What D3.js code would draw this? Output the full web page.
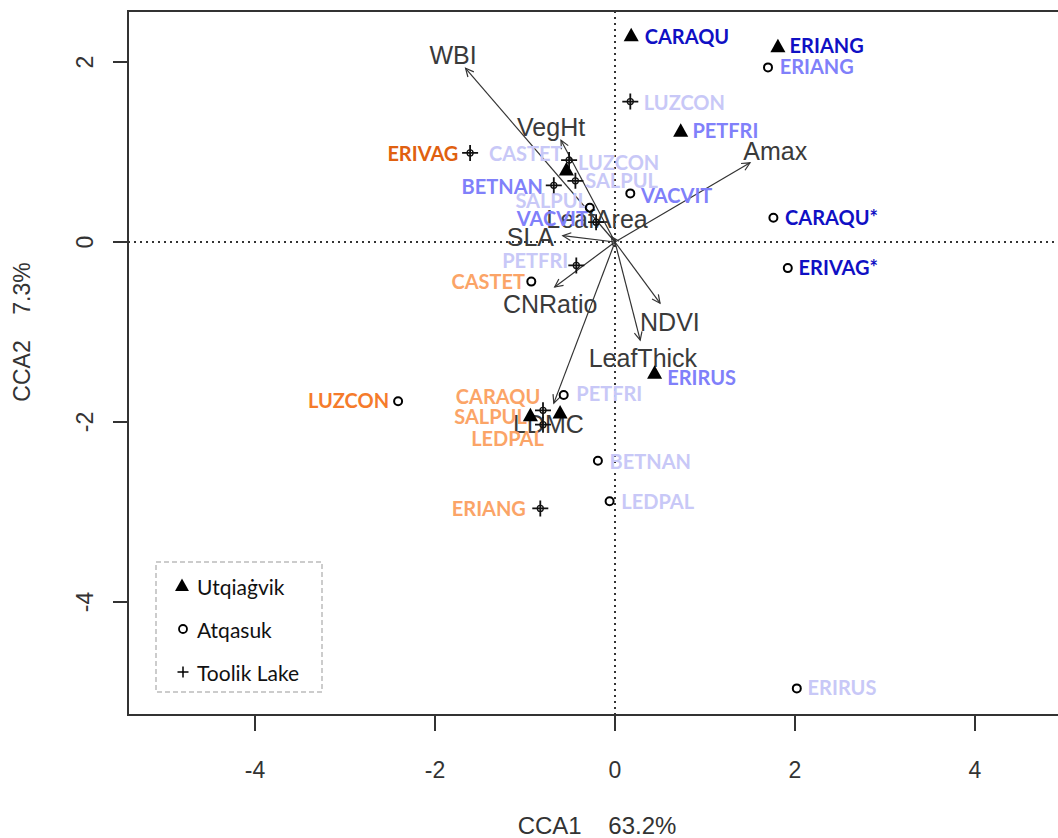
<!DOCTYPE html>
<html>
<head>
<meta charset="utf-8">
<script src="https://cdn.jsdelivr.net/npm/d3@7"></script>
<style>
  body { margin: 0; background: #fff; }
  svg { display: block; }
</style>
</head>
<body>
<svg id="ordi" width="1058" height="838"></svg>
<script>
// site scores, CCA1 / CCA2
const utqPoints = [
  [0.18, 2.29], [1.81, 2.17], [0.73, 1.23], [-0.54, 0.80],
  [0.44, -1.46], [-0.94, -1.93], [-0.61, -1.90]
];
const atqPoints = [
  [1.70, 1.94], [0.17, 0.54], [1.76, 0.27], [1.92, -0.29], [-0.28, 0.38],
  [-0.93, -0.44], [-2.41, -1.77], [-0.57, -1.70], [-0.19, -2.43],
  [-0.06, -2.88], [2.02, -4.96]
];
const toolikPoints = [
  [0.17, 1.56], [-1.61, 0.99], [-0.51, 0.91], [-0.68, 0.63], [-0.44, 0.68],
  [-0.21, 0.22], [-0.43, -0.26], [-0.80, -1.87], [-0.80, -2.03], [-0.83, -2.96]
];

// species labels: name, x, y, side, tone
const speciesLabels = [
  ['CARAQU', 0.33, 2.29, 'r', 'dark'],
  ['ERIANG', 1.94, 2.19, 'r', 'dark'],
  ['ERIANG', 1.83, 1.96, 'r', 'mid'],
  ['LUZCON', 0.32, 1.56, 'r', 'light'],
  ['PETFRI', 0.86, 1.24, 'r', 'mid'],
  ['CASTET', -1.40, 0.99, 'r', 'light'],
  ['LUZCON', -0.41, 0.89, 'r', 'light'],
  ['SALPUL', -0.33, 0.69, 'r', 'light'],
  ['VACVIT', 0.29, 0.52, 'r', 'mid'],
  ['CARAQU*', 1.89, 0.28, 'r', 'dark'],
  ['ERIVAG*', 2.04, -0.28, 'r', 'dark'],
  ['ERIRUS', 0.58, -1.50, 'r', 'mid'],
  ['PETFRI', -0.43, -1.68, 'r', 'light'],
  ['BETNAN', -0.06, -2.43, 'r', 'light'],
  ['LEDPAL', 0.07, -2.88, 'r', 'light'],
  ['ERIRUS', 2.14, -4.94, 'r', 'light'],
  ['ERIVAG', -1.74, 0.99, 'l', 'darkOrange'],
  ['BETNAN', -0.80, 0.62, 'l', 'mid'],
  ['SALPUL', -0.30, 0.47, 'l', 'light'],
  ['VACVIT', -0.30, 0.27, 'l', 'mid'],
  ['PETFRI', -0.52, -0.20, 'l', 'light'],
  ['CASTET', -1.00, -0.43, 'l', 'lightOrange'],
  ['LUZCON', -2.51, -1.76, 'l', 'orange'],
  ['CARAQU', -0.83, -1.71, 'l', 'lightOrange'],
  ['SALPUL', -0.98, -1.93, 'l', 'lightOrange'],
  ['LEDPAL', -0.79, -2.18, 'l', 'lightOrange'],
  ['ERIANG', -0.99, -2.96, 'l', 'lightOrange']
];

// trait vectors
const traitNames = ['WBI', 'VegHt', 'Amax', 'LeafArea', 'SLA', 'CNRatio', 'NDVI', 'LeafThick', 'LDMC'];
const traitX = [-1.66, -0.60, 1.50, -0.04, -0.58, -0.67, 0.50, 0.28, -0.68];
const traitY = [1.93, 1.13, 0.88, 0.06, 0.07, -0.50, -0.68, -1.09, -1.79];
const traitLabelX = [-1.80, -0.71, 1.78, -0.20, -0.94, -0.72, 0.61, 0.31, -0.74];
const traitLabelY = [2.08, 1.28, 1.01, 0.26, 0.06, -0.69, -0.89, -1.29, -2.02];

const xTicks = [-4, -2, 0, 2, 4];
const yTicks = [-4, -2, 0, 2];
const legendItems = ['Utqiaġvik', 'Atqasuk', 'Toolik Lake'];

const tones = {
  dark: '#1010c4',
  mid: '#8080fa',
  light: '#c8c8f7',
  darkOrange: '#e0600f',
  orange: '#f57b2b',
  lightOrange: '#fba467'
};

const svg = d3.select('#ordi');
const pLeft = 128, pTop = 11, pRight = 1066, pBottom = 715;

const scalex = d3.scaleLinear()
  .domain([(pLeft - 615) / 90, (pRight - 615) / 90])
  .range([pLeft, pRight]);
const scaley = d3.scaleLinear()
  .domain([(242 - pBottom) / 90, (242 - pTop) / 90])
  .range([pBottom, pTop]);

const axisFont = '"Liberation Sans", Arial, sans-serif';
const labelFont = 'Lato, "Open Sans", sans-serif';

// zero lines
svg.append('line')
  .attr('x1', scalex(0)).attr('x2', scalex(0))
  .attr('y1', pTop).attr('y2', pBottom)
  .attr('stroke', '#333').attr('stroke-width', 2).attr('stroke-dasharray', '2,4');
svg.append('line')
  .attr('x1', pLeft).attr('x2', pRight)
  .attr('y1', scaley(0)).attr('y2', scaley(0))
  .attr('stroke', '#333').attr('stroke-width', 2).attr('stroke-dasharray', '2,4');

// trait arrows
const arrows = svg.append('g').attr('stroke', '#333').attr('stroke-width', 1.2).attr('fill', 'none');
traitNames.forEach((n, i) => {
  const x0 = scalex(0), y0 = scaley(0);
  const x1 = scalex(traitX[i]), y1 = scaley(traitY[i]);
  const a = Math.atan2(y1 - y0, x1 - x0);
  const h = 9, spread = 0.45;
  arrows.append('line').attr('x1', x0).attr('y1', y0).attr('x2', x1).attr('y2', y1);
  arrows.append('path').attr('d',
    'M' + (x1 - h * Math.cos(a - spread)) + ',' + (y1 - h * Math.sin(a - spread)) +
    'L' + x1 + ',' + y1 +
    'L' + (x1 - h * Math.cos(a + spread)) + ',' + (y1 - h * Math.sin(a + spread)));
});

svg.append('g').selectAll('text')
  .data(traitNames)
  .enter()
  .append('text')
  .attr('x', (d, i) => scalex(traitLabelX[i]))
  .attr('y', (d, i) => scaley(traitLabelY[i]))
  .attr('text-anchor', 'middle')
  .attr('dominant-baseline', 'central')
  .attr('font-family', axisFont)
  .attr('font-size', 25)
  .attr('fill', '#3a3a3a')
  .text(d => d);

// species labels
svg.append('g').selectAll('text')
  .data(speciesLabels)
  .enter()
  .append('text')
  .attr('x', d => scalex(d[1]))
  .attr('y', d => scaley(d[2]))
  .attr('text-anchor', d => d[3] === 'r' ? 'start' : 'end')
  .attr('dominant-baseline', 'central')
  .attr('font-family', labelFont)
  .attr('font-weight', 'bold')
  .attr('font-size', 20)
  .attr('fill', d => tones[d[4]])
  .text(d => d[0]);

// markers
function triangle(x, y, s) {
  return 'M' + x + ',' + (y - s * 0.62) + 'L' + (x + s * 0.58) + ',' + (y + s * 0.42) +
    'L' + (x - s * 0.58) + ',' + (y + s * 0.42) + 'Z';
}
function plus(x, y, s) {
  return 'M' + (x - s) + ',' + y + 'H' + (x + s) + 'M' + x + ',' + (y - s) + 'V' + (y + s);
}

const marks = svg.append('g');
marks.selectAll('.tol')
  .data(toolikPoints)
  .enter()
  .append('path')
  .attr('class', 'tol')
  .attr('d', d => plus(scalex(d[0]), scaley(d[1]), 8))
  .attr('stroke', '#111').attr('stroke-width', 1.8).attr('fill', 'none');
marks.selectAll('.tolc')
  .data(toolikPoints)
  .enter()
  .append('circle')
  .attr('class', 'tolc')
  .attr('cx', d => scalex(d[0])).attr('cy', d => scaley(d[1]))
  .attr('r', 3).attr('stroke', '#111').attr('stroke-width', 1.3).attr('fill', 'none');
marks.selectAll('.atq')
  .data(atqPoints)
  .enter()
  .append('circle')
  .attr('class', 'atq')
  .attr('cx', d => scalex(d[0])).attr('cy', d => scaley(d[1]))
  .attr('r', 4).attr('stroke', '#000').attr('stroke-width', 2).attr('fill', 'none');
marks.selectAll('.utq')
  .data(utqPoints)
  .enter()
  .append('path')
  .attr('class', 'utq')
  .attr('d', d => triangle(scalex(d[0]), scaley(d[1]), 13))
  .attr('fill', '#000');

// frame
svg.append('rect')
  .attr('x', pLeft).attr('y', pTop)
  .attr('width', pRight - pLeft).attr('height', pBottom - pTop)
  .attr('fill', 'none').attr('stroke', '#333').attr('stroke-width', 2);

// axes
const xAxis = svg.append('g');
xTicks.forEach(t => {
  xAxis.append('line').attr('x1', scalex(t)).attr('x2', scalex(t))
    .attr('y1', pBottom).attr('y2', pBottom + 16).attr('stroke', '#333').attr('stroke-width', 2);
  xAxis.append('text').attr('x', scalex(t)).attr('y', pBottom + 63)
    .attr('text-anchor', 'middle').attr('font-family', axisFont).attr('font-size', 23)
    .attr('fill', '#333').text(t);
});
const yAxis = svg.append('g');
yTicks.forEach(t => {
  yAxis.append('line').attr('x1', pLeft - 15).attr('x2', pLeft)
    .attr('y1', scaley(t)).attr('y2', scaley(t)).attr('stroke', '#333').attr('stroke-width', 2);
  yAxis.append('text')
    .attr('transform', 'translate(' + (pLeft - 35) + ',' + scaley(t) + ') rotate(-90)')
    .attr('text-anchor', 'middle').attr('font-family', axisFont).attr('font-size', 23)
    .attr('fill', '#333').text(t);
});

svg.append('text')
  .attr('x', 597).attr('y', 834)
  .attr('text-anchor', 'middle').attr('font-family', axisFont).attr('font-size', 24)
  .attr('fill', '#333').attr('xml:space', 'preserve')
  .text('CCA1    63.2%');
svg.append('text')
  .attr('transform', 'translate(30,332) rotate(-90)')
  .attr('text-anchor', 'middle').attr('font-family', axisFont).attr('font-size', 23)
  .attr('fill', '#333').attr('xml:space', 'preserve')
  .text('CCA2    7.3%');

// legend
const legend = svg.append('g').attr('transform', 'translate(156,562)');
legend.append('rect')
  .attr('width', 166).attr('height', 130)
  .attr('fill', '#fff').attr('stroke', '#999').attr('stroke-width', 1).attr('stroke-dasharray', '5,3');
legend.append('path').attr('d', triangle(26, 24, 12)).attr('fill', '#000');
legend.append('circle').attr('cx', 27).attr('cy', 67).attr('r', 4)
  .attr('fill', 'none').attr('stroke', '#000').attr('stroke-width', 1.8);
legend.append('path').attr('d', plus(27, 110, 5.5)).attr('stroke', '#000').attr('stroke-width', 1.5);
legend.selectAll('text')
  .data(legendItems)
  .enter()
  .append('text')
  .attr('x', 41)
  .attr('y', (d, i) => 24 + i * 43)
  .attr('dominant-baseline', 'central')
  .attr('font-family', labelFont)
  .attr('font-size', 21)
  .attr('fill', '#111')
  .text(d => d);
</script>
</body>
</html>
